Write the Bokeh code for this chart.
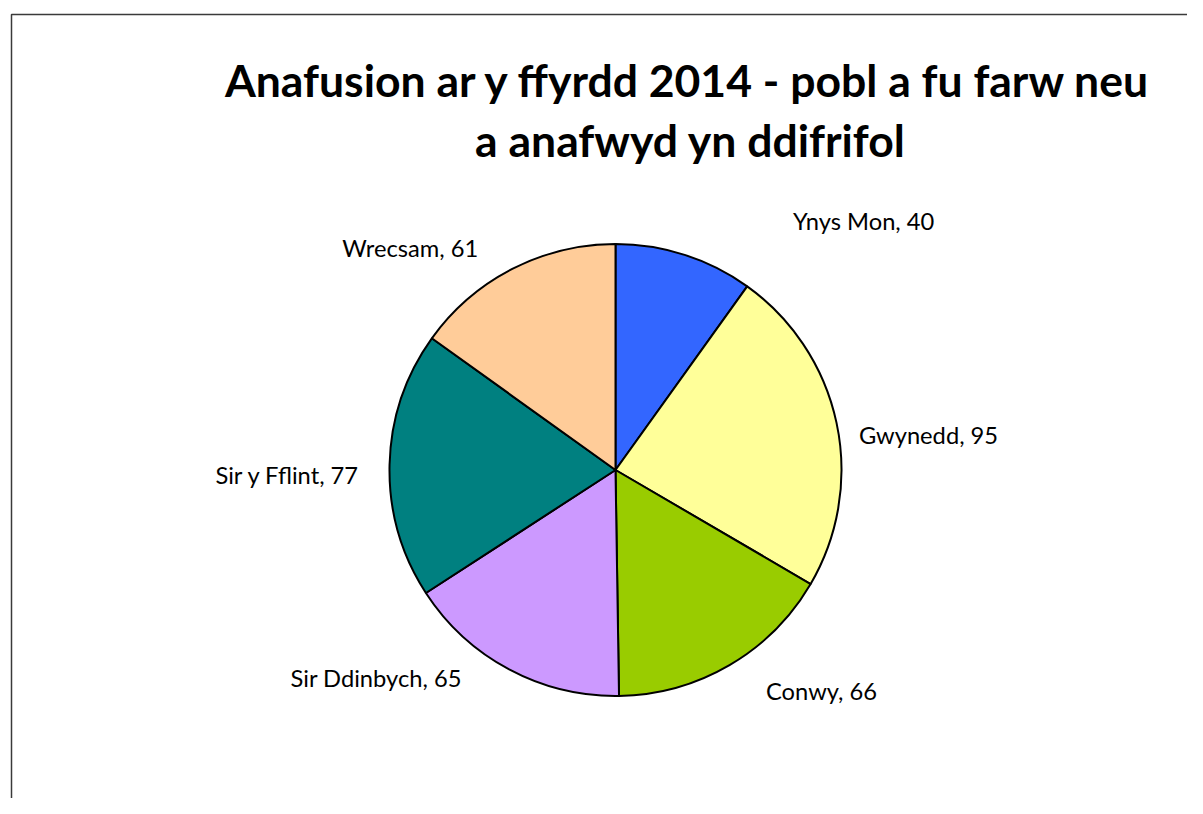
import numpy as np
from bokeh.plotting import figure
from bokeh.models import ColumnDataSource, Range1d, Label
from bokeh.embed import file_html
from bokeh.resources import INLINE
from bokeh.core.properties import value

# ---- data ----
categories = ["Ynys Mon", "Gwynedd", "Conwy", "Sir Ddinbych", "Sir y Fflint", "Wrecsam"]
values = [40, 95, 66, 65, 77, 61]
colors = ["#3366FF", "#FFFF99", "#99CC00", "#CC99FF", "#008080", "#FFCC99"]
title_lines = ["Anafusion ar y ffyrdd 2014 - pobl a fu farw neu", "a anafwyd yn ddifrifol"]

# ---- layout (1 data unit = 1 pixel) ----
W, H = 1187, 798
CX, CY, R = 615.0, 328.5, 226.0
# label nudges (pixels) from the slice's outer mid-point
label_dx = [179, 92, 92, -133, -102, -102]
label_dy = [34, -12, -26, -9, -10, 21]

vals = np.array(values, dtype=float)
frac = vals / vals.sum()
cum = np.concatenate([[0.0], np.cumsum(frac)])
start = np.pi / 2 - 2 * np.pi * cum[:-1]
end = np.pi / 2 - 2 * np.pi * cum[1:]
mid = (start + end) / 2

src = ColumnDataSource(dict(
    cat=categories, val=values, color=colors,
    start=start, end=end,
))

lx = CX + R * np.cos(mid) + np.array(label_dx)
ly = CY + R * np.sin(mid) + np.array(label_dy)
labels = [f"{c}, {v}" for c, v in zip(categories, values)]
lsrc = ColumnDataSource(dict(x=lx, y=ly, text=labels))

p = figure(width=W, height=H, output_backend="svg", toolbar_location=None,
           x_range=Range1d(0, W), y_range=Range1d(0, H), min_border=0,
           tools="")
p.axis.visible = False
p.grid.visible = False
p.outline_line_color = None
p.background_fill_color = "white"
p.border_fill_color = "white"

# chart border (extends past the page edge, as in the original)
p.line(x=[11, 11, W + 50], y=[-50, 784, 784], line_color="#3a3a3a", line_width=1.5)

p.wedge(x=CX, y=CY, radius=R, start_angle="start", end_angle="end",
        direction="clock", fill_color="color", line_color="black",
        line_width=2, source=src)

p.text(x="x", y="y", text="text", source=lsrc, text_align="center",
       text_baseline="middle", text_font=value("Lato"), text_font_size="23.7px",
       text_color="black")

p.add_layout(Label(x=688, y=719, text=title_lines[0], text_align="center",
                   text_baseline="alphabetic", text_font="Lato",
                   text_font_style="bold", text_font_size="44.5px", text_color="black"))
p.add_layout(Label(x=690, y=659, text=title_lines[1], text_align="center",
                   text_baseline="alphabetic", text_font="Lato",
                   text_font_style="bold", text_font_size="44.5px", text_color="black"))

open("out.html", "w").write(file_html(p, INLINE))
